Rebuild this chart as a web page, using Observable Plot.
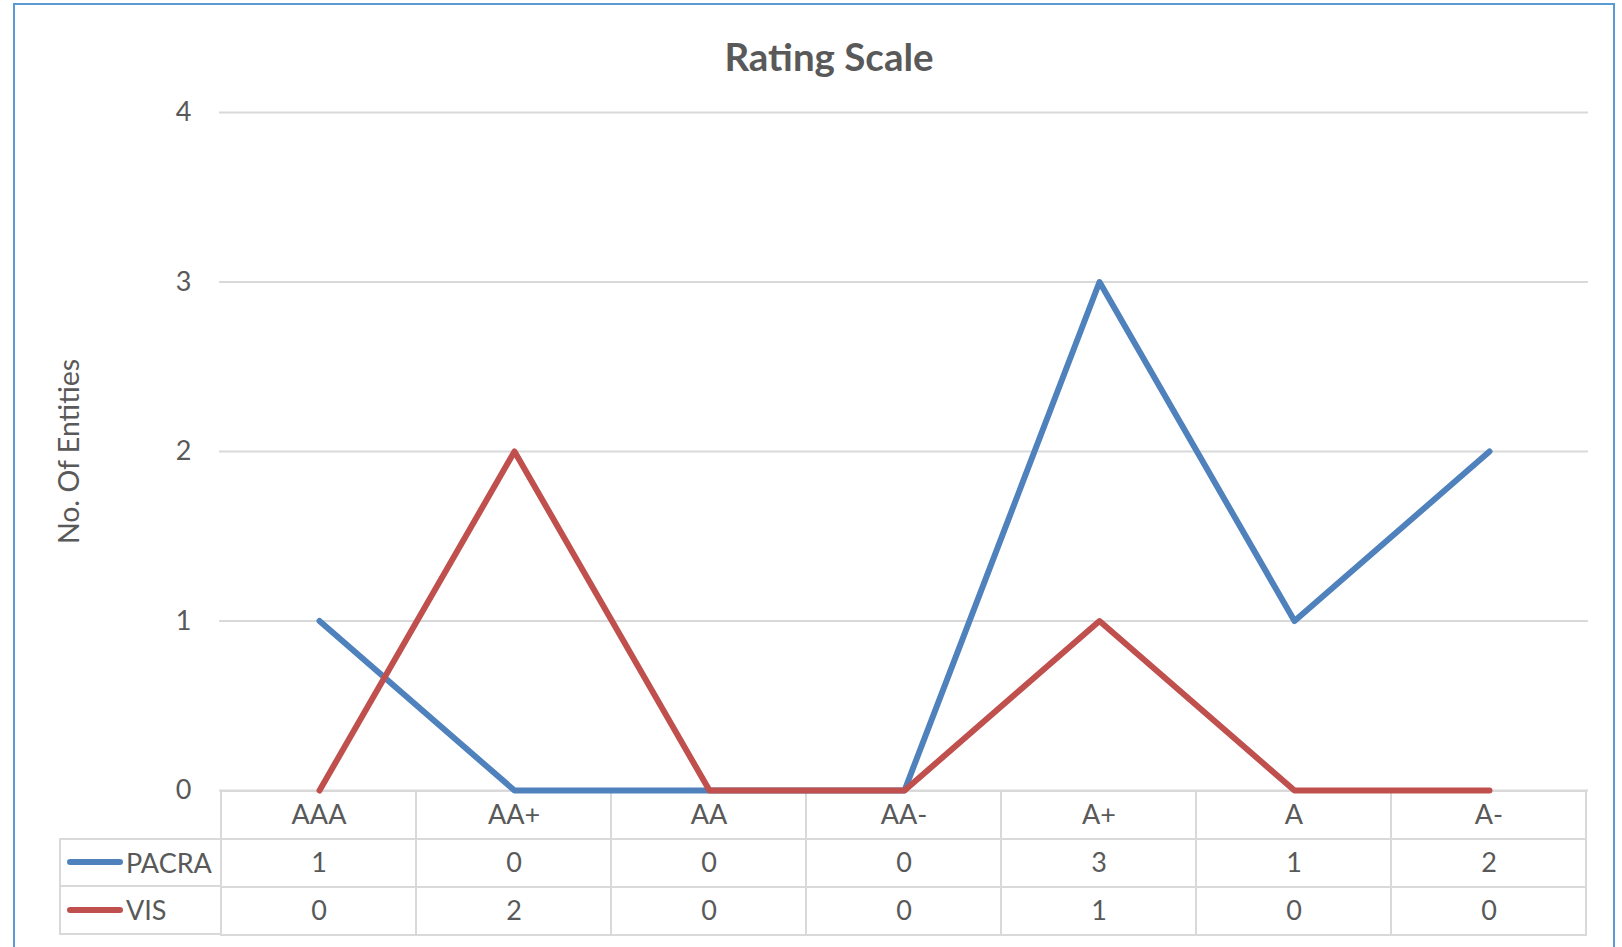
<!DOCTYPE html>
<html>
<head>
<meta charset="utf-8">
<script src="https://cdn.jsdelivr.net/npm/d3@7"></script>
<script src="https://cdn.jsdelivr.net/npm/@observablehq/plot@0.6"></script>
<style>
  html, body { margin: 0; padding: 0; background: #fff; }
  #wrap { position: relative; width: 1622px; height: 947px; overflow: hidden; font-family: Lato, "Open Sans", sans-serif; color: #595959; }
  #frame { position: absolute; left: 13px; top: 3px; width: 1602px; height: 1000px; border: 2px solid #5B9BD5; box-sizing: border-box; }
  #title { position: absolute; left: 0; width: 1658px; top: 33px; text-align: center; font-weight: 700; font-size: 38.5px; line-height: 46px; color: #595959; }
  .abs { position: absolute; left: 0; }
  #legend { position: absolute; left: 59px; top: 838px; width: 161px; }
  #legend .row { height: 48.6px; box-sizing: border-box; border: 2px solid #D9D9D9; border-right: none; display: flex; align-items: center; font-size: 27px; color: #595959; }
  #legend .row + .row { border-top: none; }
  #legend .sw { display: inline-block; width: 56px; height: 6px; border-radius: 3px; margin-left: 6px; margin-right: 3px; }
</style>
</head>
<body>
<div id="wrap">
  <div id="frame"></div>
  <div id="title">Rating Scale</div>
  <div id="table" class="abs" style="top:780px"></div>
  <div id="chart" class="abs" style="top:0px"></div>
  <div id="legend"></div>
</div>
<script>
// ---- data ----
const categories = ["AAA", "AA+", "AA", "AA-", "A+", "A", "A-"];
const seriesNames = ["PACRA", "VIS"];
const pacraValues = [1, 0, 0, 0, 3, 1, 2];
const visValues = [0, 2, 0, 0, 1, 0, 0];
const yTicks = [0, 1, 2, 3, 4];
const yLabel = "No. Of Entities";
const seriesColors = ["#4F81BD", "#C0504D"];

const seriesValues = [pacraValues, visValues];
const data = [];
seriesNames.forEach((s, si) => categories.forEach((c, i) => data.push({series: s, cat: c, value: seriesValues[si][i]})));

const W = 1622, ML = 219, MR = 34;
const textColor = "#595959", gridColor = "#D9D9D9";

// ---- main chart ----
const chart = Plot.plot({
  width: W, height: 810,
  marginLeft: ML, marginRight: MR, marginTop: 112, marginBottom: 20,
  style: {background: "transparent", fontFamily: "Lato, 'Open Sans', sans-serif", color: textColor},
  x: {type: "point", domain: categories, padding: 0.5, axis: null},
  y: {domain: [0, 4], axis: null},
  color: {domain: seriesNames, range: seriesColors},
  marks: [
    Plot.gridY(yTicks, {stroke: gridColor, strokeOpacity: 1, strokeWidth: 2}),
    Plot.axisY(yTicks, {tickSize: 0, tickPadding: 28, fontSize: 27, fill: textColor, label: null, tickFormat: d => String(d)}),
    Plot.text([yLabel], {frameAnchor: "left", textAnchor: "middle", dx: -150, rotate: -90, fontSize: 28.5, fill: textColor, text: d => d}),
    Plot.line(data, {x: "cat", y: "value", z: "series", stroke: "series", strokeWidth: 6, strokeLinejoin: "round", strokeLinecap: "round"})
  ]
});
document.getElementById("chart").appendChild(chart);

// ---- data table ----
const rows = ["header", ...seriesNames];
const cells = [];
categories.forEach((c, i) => {
  cells.push({row: "header", col: c, label: c});
  seriesNames.forEach((s, si) => cells.push({row: s, col: c, label: String(seriesValues[si][i])}));
});
const table = Plot.plot({
  width: W, height: 167,
  marginLeft: ML, marginRight: MR, marginTop: 10, marginBottom: 11,
  style: {background: "transparent", fontFamily: "Lato, 'Open Sans', sans-serif", color: textColor},
  x: {type: "band", domain: categories, padding: 0, axis: null},
  y: {type: "band", domain: rows, padding: 0, axis: null},
  marks: [
    Plot.cell(cells, {x: "col", y: "row", fill: "none", stroke: gridColor, strokeWidth: 2}),
    Plot.text(cells, {x: "col", y: "row", text: "label", fontSize: 27, fill: textColor})
  ]
});
document.getElementById("table").appendChild(table);

// ---- legend column ----
const legend = document.getElementById("legend");
seriesNames.forEach((s, i) => {
  const r = document.createElement("div");
  r.className = "row";
  const sw = document.createElement("span");
  sw.className = "sw";
  sw.style.background = seriesColors[i];
  r.appendChild(sw);
  r.appendChild(document.createTextNode(s));
  legend.appendChild(r);
});
</script>
</body>
</html>
